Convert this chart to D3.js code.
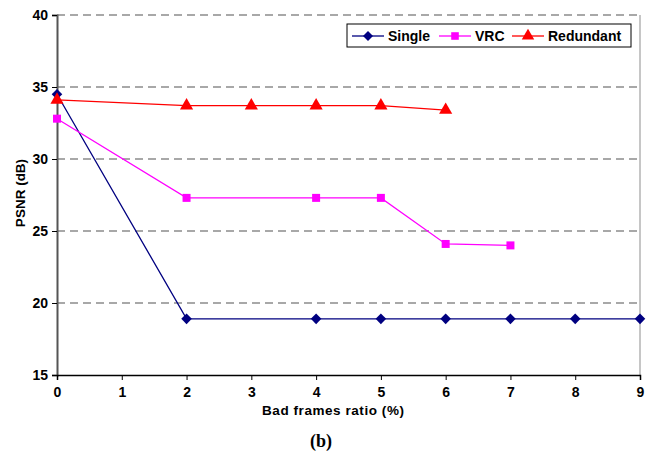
<!DOCTYPE html>
<html>
<head>
<meta charset="utf-8">
<script src="https://cdn.jsdelivr.net/npm/d3@7"></script>
<style>
  body { margin: 0; background: #fff; }
  text { font-family: "Liberation Sans", Arial, sans-serif; font-weight: bold; }
</style>
</head>
<body>
<svg id="chart" width="656" height="454"></svg>
<script>
// data
var singleX = [0, 2, 4, 5, 6, 7, 8, 9],
    singleY = [34.5, 18.9, 18.9, 18.9, 18.9, 18.9, 18.9, 18.9],
    vrcX = [0, 2, 4, 5, 6, 7],
    vrcY = [32.8, 27.3, 27.3, 27.3, 24.1, 24.0],
    redX = [0, 2, 3, 4, 5, 6],
    redY = [34.1, 33.7, 33.7, 33.7, 33.7, 33.4],
    xTicks = [0, 1, 2, 3, 4, 5, 6, 7, 8, 9],
    yTicks = [15, 20, 25, 30, 35, 40];

(function () {
    var svg = d3.select('#chart'),
        pL = 57, pR = 640, pT = 15, pB = 375;

    var x = d3.scaleLinear().domain([0, 9]).range([pL, pR]),
        y = d3.scaleLinear().domain([15, 40]).range([pB, pT]);

    // grid
    svg.append('g').selectAll('line')
        .data(yTicks.filter(function (d) { return d > 15; }))
        .enter().append('line')
        .attr('x1', pL).attr('x2', pR)
        .attr('y1', function (d) { return y(d); })
        .attr('y2', function (d) { return y(d); })
        .attr('stroke', '#8c8c8c')
        .attr('stroke-width', 1.3)
        .attr('stroke-dasharray', '8,5');

    // right border
    svg.append('line')
        .attr('x1', pR).attr('x2', pR).attr('y1', pT).attr('y2', pB)
        .attr('stroke', '#a0a0a0').attr('stroke-width', 1.2);

    // axes
    var yAxis = d3.axisLeft(y).tickValues(yTicks).tickSize(5).tickPadding(4);
    var gy = svg.append('g').attr('transform', 'translate(' + pL + ',0)').call(yAxis);
    gy.select('.domain').attr('stroke', '#555').attr('stroke-width', 2);
    gy.selectAll('.tick line').attr('stroke', '#000');
    gy.selectAll('text').attr('font-size', 14).attr('fill', '#000');

    var xAxis = d3.axisBottom(x).tickValues(xTicks).tickSize(5).tickPadding(7);
    var gx = svg.append('g').attr('transform', 'translate(0,' + pB + ')').call(xAxis);
    gx.select('.domain').attr('stroke', '#000').attr('stroke-width', 1.5);
    gx.selectAll('.tick line').attr('stroke', '#000');
    gx.selectAll('text').attr('font-size', 14).attr('fill', '#000');

    // labels
    svg.append('text')
        .attr('transform', 'translate(25,193) rotate(-90)')
        .attr('text-anchor', 'middle')
        .attr('font-size', 13.5)
        .text('PSNR (dB)');

    svg.append('text')
        .attr('x', 333).attr('y', 415)
        .attr('text-anchor', 'middle')
        .attr('font-size', 13.5)
        .attr('textLength', 142)
        .text('Bad frames ratio (%)');

    svg.append('text')
        .attr('x', 321).attr('y', 447)
        .attr('text-anchor', 'middle')
        .attr('font-size', 18)
        .style('font-family', '"Liberation Serif", "Times New Roman", serif')
        .text('(b)');

    var diamond = {
        draw: function (ctx, size) {
            var r = Math.sqrt(size / 2);
            ctx.moveTo(0, -r); ctx.lineTo(r, 0); ctx.lineTo(0, r); ctx.lineTo(-r, 0); ctx.closePath();
        }
    };

    var series = [
        {name: 'Single', xs: singleX, ys: singleY, color: '#000080', shape: diamond, size: 56},
        {name: 'VRC', xs: vrcX, ys: vrcY, color: '#ff00ff', shape: d3.symbolSquare, size: 64},
        {name: 'Redundant', xs: redX, ys: redY, color: '#ff0000', shape: d3.symbolTriangle, size: 75}
    ];

    var line = d3.line()
        .x(function (d) { return x(d[0]); })
        .y(function (d) { return y(d[1]); });

    series.forEach(function (s) {
        var pts = d3.zip(s.xs, s.ys);
        svg.append('path')
            .attr('d', line(pts))
            .attr('fill', 'none')
            .attr('stroke', s.color)
            .attr('stroke-width', 1.3);
        svg.append('g').selectAll('path')
            .data(pts)
            .enter().append('path')
            .attr('transform', function (d) { return 'translate(' + x(d[0]) + ',' + y(d[1]) + ')'; })
            .attr('d', d3.symbol().type(s.shape).size(s.size))
            .attr('fill', s.color);
    });

    // legend
    var lg = svg.append('g');
    lg.append('rect')
        .attr('x', 347).attr('y', 24).attr('width', 284).attr('height', 23)
        .attr('fill', '#fff').attr('stroke', '#000').attr('stroke-width', 1);

    var legendPos = [352, 439, 512];
    series.forEach(function (s, i) {
        var lx = legendPos[i], ly = 36;
        lg.append('line')
            .attr('x1', lx).attr('x2', lx + 32).attr('y1', ly).attr('y2', ly)
            .attr('stroke', s.color).attr('stroke-width', 1.3);
        lg.append('path')
            .attr('transform', 'translate(' + (lx + 16) + ',' + ly + ')')
            .attr('d', d3.symbol().type(s.shape).size(s.size * 0.9))
            .attr('fill', s.color);
        lg.append('text')
            .attr('x', lx + 36).attr('y', ly + 5)
            .attr('font-size', 14)
            .text(s.name);
    });
})();
</script>
</body>
</html>
